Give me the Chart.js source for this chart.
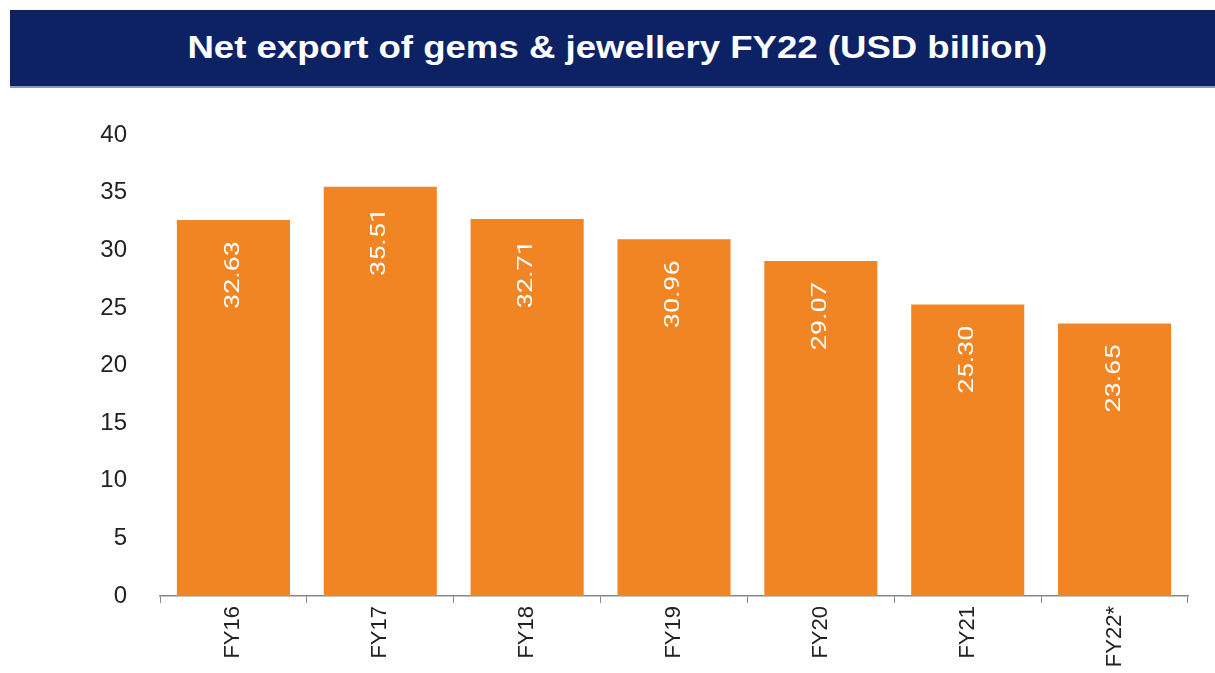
<!DOCTYPE html>
<html>
<head>
<meta charset="utf-8">
<script src="https://cdn.jsdelivr.net/npm/chart.js@4"></script>
<style>
  html, body { margin: 0; padding: 0; background: #fff; }
  #wrap { position: relative; width: 1215px; height: 673px; overflow: hidden; }
  #title {
    position: absolute; left: 10px; top: 10px; width: 1205px; height: 78px;
    background: #0d2265; border-bottom: 2px solid #8a97c2;
    color: #fff; font: bold 31px "Liberation Sans", Arial, sans-serif;
    display: flex; align-items: center; justify-content: center;
    box-sizing: border-box; padding-left: 10px;
  }
  #title span { display: inline-block; transform: scaleX(1.18); }
  #chart { position: absolute; left: 0; top: 0; }
</style>
</head>
<body>
<div id="wrap">
  <canvas id="chart" width="1215" height="673"></canvas>
  <div id="title"><span>Net export of gems &amp; jewellery FY22 (USD billion)</span></div>
</div>
<script>
const categories = ['FY16', 'FY17', 'FY18', 'FY19', 'FY20', 'FY21', 'FY22*'];
const netExports = [32.63, 35.51, 32.71, 30.96, 29.07, 25.30, 23.65];
const yTicks = [0, 5, 10, 15, 20, 25, 30, 35, 40];

// vertical value labels inside the bars
const barLabels = {
  id: 'barLabels',
  afterDatasetsDraw(chart) {
    const ctx = chart.ctx;
    const meta = chart.getDatasetMeta(0);
    ctx.save();
    ctx.fillStyle = '#ffffff';
    ctx.font = '23px Roboto, "Liberation Sans", sans-serif';
    ctx.textAlign = 'right';
    ctx.textBaseline = 'middle';
    meta.data.forEach((bar, i) => {
      ctx.save();
      ctx.translate(bar.x, bar.y + 21);
      ctx.rotate(-Math.PI / 2);
      ctx.scale(1.18, 0.9);
      ctx.fillText(netExports[i].toFixed(2), 0, 0);
      ctx.restore();
    });
    ctx.restore();
  }
};

new Chart(document.getElementById('chart').getContext('2d'), {
  type: 'bar',
  data: {
    labels: categories,
    datasets: [{
      data: netExports,
      backgroundColor: '#f28523',
      borderWidth: 0,
      categoryPercentage: 1,
      barPercentage: 0.77
    }]
  },
  options: {
    responsive: false,
    animation: false,
    layout: { padding: { left: 0, right: 27, top: 135, bottom: 0 } },
    plugins: {
      legend: { display: false },
      tooltip: { enabled: false }
    },
    scales: {
      x: {
        grid: {
          display: true,
          drawOnChartArea: false,
          drawTicks: true,
          tickLength: 7,
          offset: true,
          color: '#888888'
        },
        border: { display: true, color: '#888888', width: 1.5 },
        ticks: {
          color: '#222222',
          font: { family: 'Liberation Sans, Arial, sans-serif', size: 22 },
          maxRotation: 90,
          minRotation: 90,
          padding: 3
        },
        afterFit(scale) { scale.height = 77; }
      },
      y: {
        min: 0,
        max: 40,
        afterBuildTicks(scale) { scale.ticks = yTicks.map(v => ({ value: v })); },
        grid: { display: false },
        border: { display: false },
        ticks: {
          color: '#222222',
          font: { family: 'Liberation Sans, Arial, sans-serif', size: 24 },
          padding: 25
        },
        afterFit(scale) { scale.width = 160; }
      }
    }
  },
  plugins: [barLabels]
});
</script>
</body>
</html>
